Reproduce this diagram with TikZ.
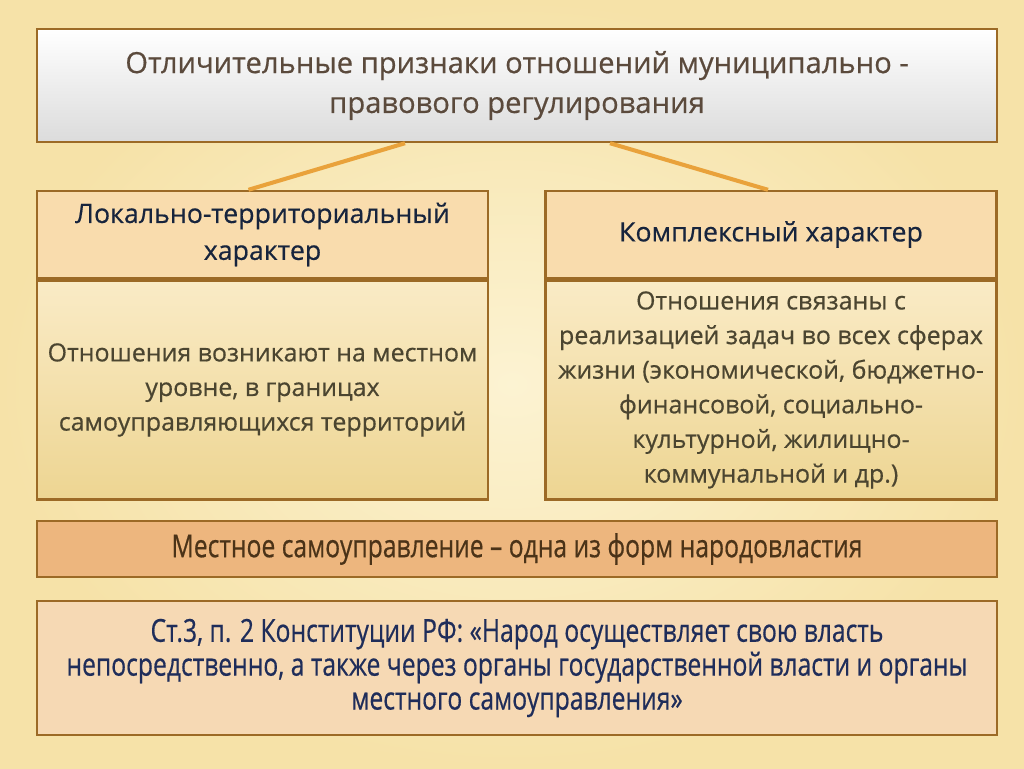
\documentclass[tikz,border=0pt]{standalone}
\usepackage{fontspec}
\setmainfont[FakeBold=0.5]{Open Sans}
\newfontfamily\narrowfont[FakeStretch=0.78,FakeBold=0.5]{Open Sans}
\usepackage{xcolor}
\usetikzlibrary{calc,positioning}

\definecolor{bgpale}{HTML}{FCF3D2}
\definecolor{bgdeep}{HTML}{F6E2A8}
\definecolor{frame}{HTML}{9C6A26}
\definecolor{headfill}{HTML}{F9DCAD}
\definecolor{bodytop}{HTML}{FAEBC6}
\definecolor{bodybot}{HTML}{EDD592}
\definecolor{bandfill}{HTML}{EDB67E}
\definecolor{quotefill}{HTML}{F6D9B4}
\definecolor{linkcol}{HTML}{E9A23B}
\definecolor{titletext}{HTML}{5B4A3C}
\definecolor{headtext}{HTML}{17243D}
\definecolor{bodytext}{HTML}{4B4530}
\definecolor{bandtext}{HTML}{4B3318}
\definecolor{quotetext}{HTML}{1F2D5A}

\begin{document}
\begin{tikzpicture}[x=0.02cm,y=-0.02cm]
  \tikzstyle{box}=[draw=frame,line width=1.4pt,align=center,inner sep=0pt]
  \tikzstyle{head}=[box,fill=headfill,text=headtext,minimum width=9.02cm,minimum height=1.74cm,
    font=\fontsize{15.2}{21}\selectfont]
  \tikzstyle{body}=[box,top color=bodytop,bottom color=bodybot,text=bodytext,minimum width=9.02cm,
    minimum height=4.38cm,font=\fontsize{14.2}{19.7}\selectfont]
  \tikzstyle{link}=[linkcol,line width=2.3pt]
  % background
  \shade[inner color=bgpale,outer color=bgdeep] (0,0) rectangle (1024,768);
  \useasboundingbox (0,0) rectangle (1024,768);
  % title
  \node[box,top color=white,bottom color=gray!28,text=titletext,minimum width=19.2cm,
    minimum height=2.26cm,font=\fontsize{16.6}{22.7}\selectfont] (title) at (517,85.5)
    {Отличительные признаки отношений муниципально -\\правового регулирования};
  % two columns
  \node[head] (lhead) at (262.5,234.5) {Локально-территориальный\\характер};
  \node[body,below=0pt of lhead] (lbody)
    {Отношения возникают на местном\\уровне, в границах\\самоуправляющихся территорий};
  \node[head] (rhead) at (771,234.5) {Комплексный характер};
  \node[body,below=0pt of rhead] (rbody)
    {Отношения связаны с\\реализацией задач во всех сферах\\жизни (экономической, бюджетно-\\
     финансовой, социально-\\культурной, жилищно-\\коммунальной и др.)};
  \draw[link] ($(title.south)+(-112,0)$) -- ($(lhead.north)+(-14,0)$);
  \draw[link] ($(title.south)+(93,0)$) -- ($(rhead.north)+(-3,0)$);
  % bottom
  \node[box,fill=bandfill,text=bandtext,minimum width=19.2cm,minimum height=1.12cm,
    font=\narrowfont\fontsize{18}{20}\selectfont] (band) at (517,549)
    {Местное самоуправление – одна из форм народовластия};
  \node[box,fill=quotefill,text=quotetext,minimum width=19.2cm,minimum height=2.68cm,
    font=\narrowfont\fontsize{18}{19.3}\selectfont] (quote) at (517,668)
    {Ст.3, п. 2 Конституции РФ: «Народ осуществляет свою власть\\
     непосредственно, а также через органы государственной власти и органы\\
     местного самоуправления»};
\end{tikzpicture}
\end{document}
